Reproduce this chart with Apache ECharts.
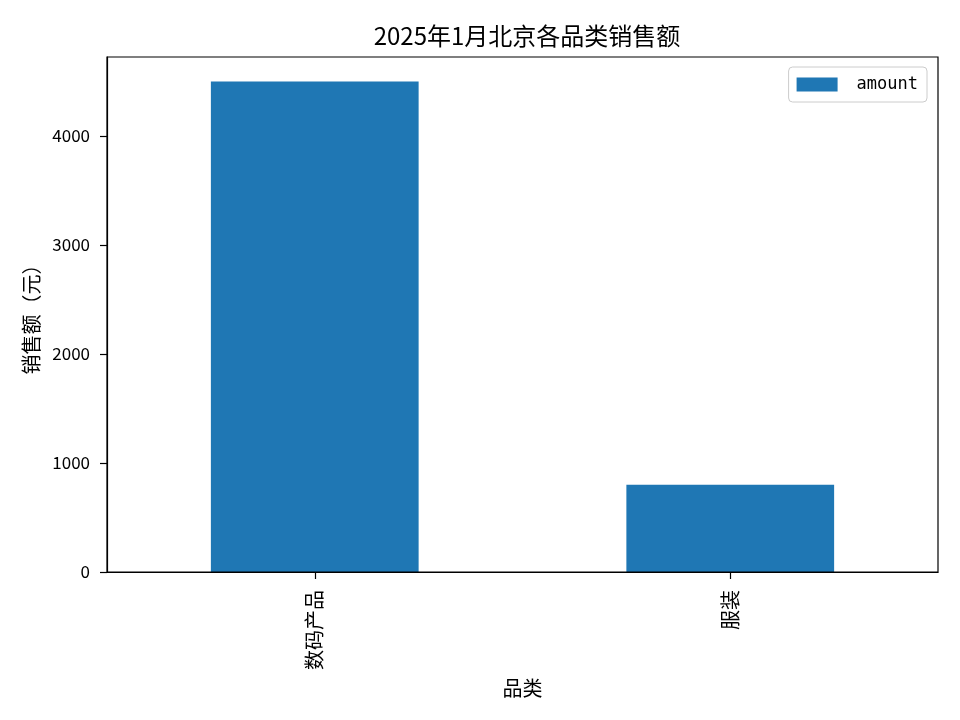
<!DOCTYPE html>
<html>
<head>
<meta charset="utf-8">
<script src="https://cdn.jsdelivr.net/npm/echarts@6/dist/echarts.min.js"></script>
<style>html,body{margin:0;padding:0;background:#fff}#c{width:960px;height:720px}</style>
</head>
<body>
<div id="c"></div>
<script>
var categories = ['数码产品', '服装'];
var amount = [4500, 800];
var yTicks = [0, 1000, 2000, 3000, 4000];
var titleText = '2025年1月北京各品类销售额';
var xName = '品类';
var yName = '销售额（元）';
var seriesName = 'amount';

var FONT = "'Noto Sans CJK SC', sans-serif";
var chart = echarts.init(document.getElementById('c'));
chart.setOption({
  backgroundColor: '#fff',
  animation: false,
  title: {
    text: titleText, left: 522, textAlign: 'center', top: 19,
    textStyle: { fontFamily: FONT, fontSize: 24, fontWeight: 'normal', color: '#000' }
  },
  legend: {
    right: 33, top: 67, orient: 'vertical',
    itemWidth: 41, itemHeight: 14, itemGap: 8,
    padding: [9, 9, 9, 8],
    borderColor: '#cccccc', borderWidth: 1, borderRadius: 4,
    backgroundColor: '#fff',
    textStyle: { fontFamily: "'DejaVu Sans Mono', monospace", fontSize: 17, color: '#000', padding: [0, 0, 0, 14] },
    data: [{ name: seriesName, icon: 'rect' }]
  },
  grid: { left: 107, right: 22, top: 57, bottom: 148, containLabel: false },
  xAxis: {
    type: 'category', data: categories,
    name: xName, nameLocation: 'middle', nameGap: 106,
    nameTextStyle: { fontFamily: FONT, fontSize: 20, color: '#000' },
    axisLine: { show: true, lineStyle: { color: '#000', width: 1.2 } },
    axisTick: { show: true, alignWithLabel: true, length: 7, lineStyle: { color: '#000', width: 1.2 } },
    axisLabel: { rotate: 90, fontFamily: FONT, fontSize: 20, color: '#000', margin: 18 },
    splitLine: { show: false }
  },
  yAxis: {
    type: 'value', min: 0, max: 4725, interval: 1000,
    name: yName, nameLocation: 'middle', nameGap: 64,
    nameTextStyle: { fontFamily: FONT, fontSize: 20, color: '#000' },
    axisLine: { show: true, lineStyle: { color: '#000', width: 1.2 } },
    axisTick: { show: true, length: 7, lineStyle: { color: '#000', width: 1.2 } },
    axisLabel: {
      fontFamily: FONT, fontSize: 17, color: '#000', margin: 17,
      showMaxLabel: false,
      formatter: function (v) { return yTicks.indexOf(v) >= 0 ? String(v) : ''; }
    },
    splitLine: { show: false }
  },
  series: [{
    name: seriesName, type: 'bar', data: amount, barWidth: '50%',
    itemStyle: { color: '#1f77b4' }
  }],
  graphic: [{
    type: 'rect', shape: { x: 107, y: 57, width: 831, height: 515 },
    style: { fill: 'none', stroke: '#000', lineWidth: 1.2 }, z: 10, silent: true
  }]
});
</script>
</body>
</html>
